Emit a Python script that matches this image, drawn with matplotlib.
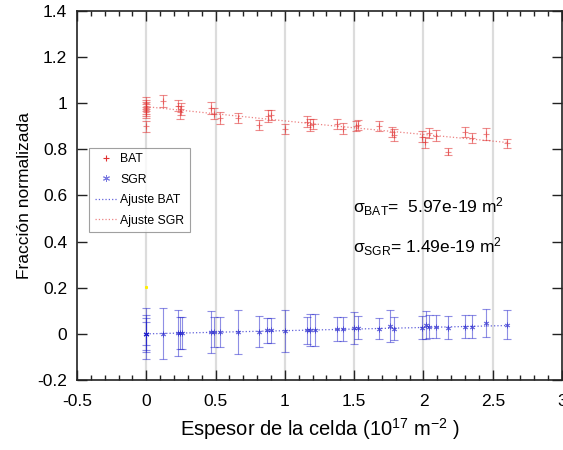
import matplotlib
matplotlib.use("Agg")
import matplotlib.pyplot as plt
from matplotlib.lines import Line2D
from matplotlib.ticker import MultipleLocator

plt.rcParams["font.family"] = ["Liberation Sans", "DejaVu Sans"]
plt.rcParams["mathtext.fontset"] = "custom"
plt.rcParams["mathtext.rm"] = "Liberation Sans"
plt.rcParams["mathtext.it"] = "Liberation Sans"
plt.rcParams["mathtext.default"] = "regular"

# BAT measurements
bat_x = [0, 0, 0, 0, 0, 0, 0.12, 0.23, 0.245, 0.25, 0.47, 0.49, 0.53, 0.66,
         0.81, 0.88, 0.90, 1.0, 1.16, 1.18, 1.20, 1.375, 1.42, 1.51, 1.53,
         1.68, 1.77, 1.79, 1.99, 2.01, 2.04, 2.09, 2.18, 2.30, 2.35, 2.45, 2.60]
bat_y = [1.0, 0.99, 0.98, 0.97, 0.96, 0.90, 1.01, 0.99, 0.96, 0.975, 0.98,
         0.955, 0.935, 0.935, 0.905, 0.945, 0.95, 0.89, 0.92, 0.905, 0.91,
         0.91, 0.89, 0.90, 0.905, 0.90, 0.875, 0.863, 0.855, 0.83, 0.87,
         0.86, 0.79, 0.877, 0.848, 0.867, 0.826]
bat_err = [0.025, 0.025, 0.025, 0.025, 0.025, 0.025, 0.025, 0.025, 0.03,
           0.025, 0.025, 0.025, 0.025, 0.022, 0.022, 0.025, 0.022, 0.022,
           0.025, 0.025, 0.022, 0.022, 0.025, 0.022, 0.022, 0.022, 0.022,
           0.025, 0.025, 0.025, 0.022, 0.022, 0.015, 0.022, 0.022, 0.025, 0.02]

# SGR measurements
sgr_x = [0, 0, 0, 0, 0.12, 0.23, 0.245, 0.26, 0.47, 0.49, 0.53, 0.66, 0.81,
         0.87, 0.90, 1.0, 1.16, 1.18, 1.22, 1.375, 1.42, 1.50, 1.53, 1.68,
         1.76, 1.79, 1.99, 2.02, 2.04, 2.09, 2.18, 2.30, 2.35, 2.45, 2.60]
sgr_y = [0.0, 0.0, 0.0, 0.0, 0.0, 0.003, 0.003, 0.003, 0.009, 0.009, 0.009,
         0.009, 0.009, 0.015, 0.015, 0.012, 0.016, 0.016, 0.016, 0.019, 0.019,
         0.026, 0.026, 0.023, 0.033, 0.022, 0.026, 0.038, 0.03, 0.03, 0.026,
         0.03, 0.03, 0.047, 0.04]
sgr_err = [0.11, 0.08, 0.07, 0.05, 0.11, 0.1, 0.07, 0.07, 0.09, 0.065, 0.065,
           0.095, 0.068, 0.055, 0.055, 0.09, 0.058, 0.07, 0.07, 0.052, 0.052,
           0.07, 0.05, 0.045, 0.07, 0.05, 0.05, 0.06, 0.05, 0.05, 0.05, 0.05,
           0.05, 0.06, 0.064]

# fitted curves
bat_fit_x = [0, 1.3, 2.6]
bat_fit_y = [0.985, 0.905, 0.83]
sgr_fit_x = [0, 1.3, 2.6]
sgr_fit_y = [0.0, 0.018, 0.036]

RED = "#e03030"
BLUE = "#2020cc"
ASTERISK = (6, 2, 0)

fig = plt.figure(figsize=(5.63, 4.5), dpi=100)
ax = fig.add_axes([0.1368, 0.1556, 0.8615, 0.82])

for xv in [0, 0.5, 1, 1.5, 2, 2.5]:
    ax.axvline(xv, color="#dcdcdc", lw=1.6, zorder=0)

ax.plot(bat_fit_x, bat_fit_y, ls=":", color=RED, lw=0.9, alpha=0.6)
ax.plot(sgr_fit_x, sgr_fit_y, ls=":", color=BLUE, lw=0.9, alpha=0.7)

ax.errorbar(bat_x, bat_y, yerr=bat_err, fmt="+", color=RED, ms=4,
            mew=0.8, elinewidth=0.8, capsize=3, capthick=0.8, alpha=0.55)
ax.errorbar(sgr_x, sgr_y, yerr=sgr_err, fmt="none", ecolor=BLUE,
            elinewidth=0.8, capsize=3, capthick=0.8, alpha=0.5)
ax.plot(sgr_x, sgr_y, ls="none", marker=ASTERISK, color=BLUE, ms=4,
        mew=0.7, alpha=0.6)
ax.plot([0], [0.205], "s", color="#ffee00", ms=1.2)

ax.set_xlim(-0.5, 3)
ax.set_ylim(-0.2, 1.4)
ax.xaxis.set_minor_locator(MultipleLocator(0.1))
ax.set_xticks([-0.5, 0, 0.5, 1, 1.5, 2, 2.5, 3])
ax.set_xticklabels(["-0.5", "0", "0.5", "1", "1.5", "2", "2.5", "3"])
ax.set_yticks([-0.2, 0, 0.2, 0.4, 0.6, 0.8, 1, 1.2, 1.4])
ax.set_yticklabels(["-0.2", "0", "0.2", "0.4", "0.6", "0.8", "1", "1.2", "1.4"])
ax.tick_params(which="both", direction="in", top=True, right=True,
               labelsize=12.5, width=1.0, color="#222222")
ax.tick_params(which="major", length=7.5)
ax.tick_params(which="minor", length=3.5)
ax.tick_params(axis="x", which="major", pad=10)
ax.tick_params(axis="y", which="major", pad=7)
for sp in ax.spines.values():
    sp.set_linewidth(1.2)
    sp.set_color("#222222")

ax.set_xlabel("Espesor de la celda (10$^{17}$ m$^{-2}$ )", fontsize=14.5,
              labelpad=5)
ax.set_ylabel("Fracción normalizada", fontsize=12.5, labelpad=4)

ax.text(1.49, 0.55, r"$\sigma_{BAT}$=  5.97e-19 m$^2$", fontsize=12.5,
        va="center")
ax.text(1.49, 0.38, r"$\sigma_{SGR}$= 1.49e-19 m$^2$", fontsize=12.5,
        va="center")

handles = [
    Line2D([], [], ls="none", marker="+", color=RED, ms=5, mew=0.8),
    Line2D([], [], ls="none", marker=ASTERISK, color=BLUE, ms=5, mew=0.7,
           alpha=0.6),
    Line2D([], [], ls=":", color=BLUE, lw=0.9, alpha=0.7),
    Line2D([], [], ls=":", color=RED, lw=0.9, alpha=0.6),
]
leg = ax.legend(handles, ["BAT", "SGR", "Ajuste BAT", "Ajuste SGR"],
                loc="upper left", bbox_to_anchor=(0.025, 0.63),
                borderaxespad=0, fontsize=8.8, fancybox=False,
                edgecolor="#888888", handlelength=1.8, handletextpad=0.3,
                labelspacing=0.7, borderpad=0.45)
leg.get_frame().set_linewidth(0.8)

fig.savefig("out.png", dpi=100)
